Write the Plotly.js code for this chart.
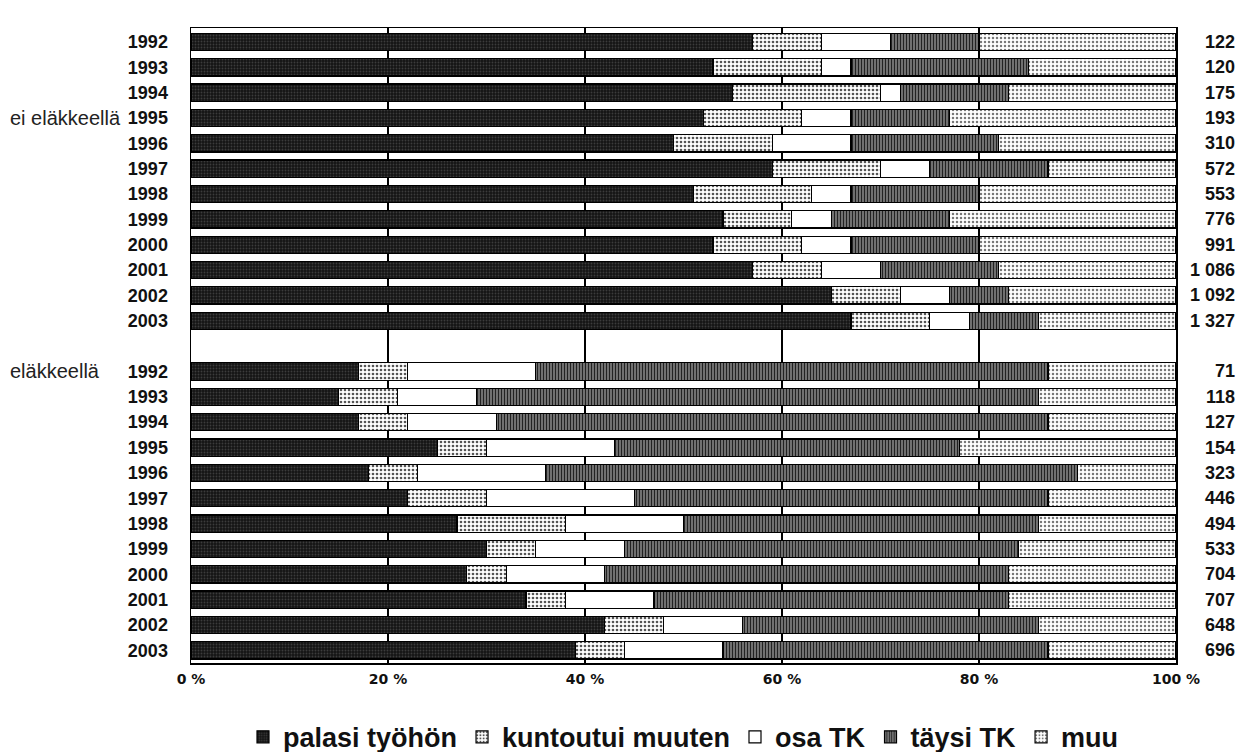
<!DOCTYPE html>
<html>
<head>
<meta charset="utf-8">
<script src="https://cdn.plot.ly/plotly-3.0.1.min.js"></script>
<style>html,body{margin:0;padding:0;background:#fff;}#chart{width:1245px;height:752px;}</style>
</head>
<body>
<div id="chart"></div>
<script>
const years = ['1992','1993','1994','1995','1996','1997','1998','1999','2000','2001','2002','2003'];
const groupLabels = ['ei eläkkeellä', 'eläkkeellä'];
const seriesNames = ['palasi työhön', 'kuntoutui muuten', 'osa TK', 'täysi TK', 'muu'];

// ei eläkkeellä (%)
const palasiEi = [57, 53, 55, 52, 49, 59, 51, 54, 53, 57, 65, 67];
const kuntEi   = [ 7, 11, 15, 10, 10, 11, 12,  7,  9,  7,  7,  8];
const osaEi    = [ 7,  3,  2,  5,  8,  5,  4,  4,  5,  6,  5,  4];
const taysiEi  = [ 9, 18, 11, 10, 15, 12, 13, 12, 13, 12,  6,  7];
const muuEi    = [20, 15, 17, 23, 18, 13, 20, 23, 20, 18, 17, 14];
const nEi      = ['122','120','175','193','310','572','553','776','991','1 086','1 092','1 327'];

// eläkkeellä (%)
const palasiEl = [17, 15, 17, 25, 18, 22, 27, 30, 28, 34, 42, 39];
const kuntEl   = [ 5,  6,  5,  5,  5,  8, 11,  5,  4,  4,  6,  5];
const osaEl    = [13,  8,  9, 13, 13, 15, 12,  9, 10,  9,  8, 10];
const taysiEl  = [52, 57, 56, 35, 54, 42, 36, 40, 41, 36, 30, 33];
const muuEl    = [13, 14, 13, 22, 10, 13, 14, 16, 17, 17, 14, 13];
const nEl      = ['71','118','127','154','323','446','494','533','704','707','648','696'];

const xTickVals = [0, 20, 40, 60, 80, 100];
const xTickText = ['0 %', '20 %', '40 %', '60 %', '80 %', '100 %'];

// row positions: group 1 rows 0..11, blank row 12, group 2 rows 13..24
const yEi = years.map((_, i) => i);
const yEl = years.map((_, i) => i + years.length + 1);
const yAll = yEi.concat(yEl);

const styles = [
  {color: '#1c1c1c', pattern: {shape: '.', fgcolor: '#3c3c3c', bgcolor: '#141414', size: 3, solidity: 0.3}},
  {color: '#ffffff', pattern: {shape: '.', fgcolor: '#555555', bgcolor: '#ffffff', size: 4, solidity: 0.35}},
  {color: '#ffffff', pattern: {shape: '', fgcolor: '#ffffff', bgcolor: '#ffffff'}},
  {color: '#555555', pattern: {shape: '|', fgcolor: '#222222', bgcolor: '#8a8a8a', size: 3, solidity: 0.5}},
  {color: '#ffffff', pattern: {shape: '.', fgcolor: '#777777', bgcolor: '#ffffff', size: 4, solidity: 0.3}}
];
const dataEi = [palasiEi, kuntEi, osaEi, taysiEi, muuEi];
const dataEl = [palasiEl, kuntEl, osaEl, taysiEl, muuEl];

const traces = seriesNames.map((name, k) => ({
  type: 'bar',
  orientation: 'h',
  name: name,
  x: dataEi[k].concat(dataEl[k]),
  y: yAll,
  width: 0.68,
  marker: {
    color: styles[k].color,
    pattern: styles[k].pattern,
    line: {color: '#000000', width: 1.2}
  },
  hoverinfo: 'x+name'
}));

const numFont = {family: 'Liberation Sans, Arial, sans-serif', size: 18, color: '#111', weight: 'bold'};
const grpFont = {family: 'Liberation Sans, Arial, sans-serif', size: 20, color: '#222'};
const annotations = [];
yEi.forEach((y, i) => annotations.push({xref: 'paper', yref: 'y', x: 1.062, y: y, xanchor: 'right', yanchor: 'middle', text: nEi[i], showarrow: false, font: numFont}));
yEl.forEach((y, i) => annotations.push({xref: 'paper', yref: 'y', x: 1.062, y: y, xanchor: 'right', yanchor: 'middle', text: nEl[i], showarrow: false, font: numFont}));
annotations.push({xref: 'paper', yref: 'y', x: -0.186, y: yEi[3], xanchor: 'left', yanchor: 'middle', text: groupLabels[0], showarrow: false, font: grpFont});
annotations.push({xref: 'paper', yref: 'y', x: -0.186, y: yEl[0], xanchor: 'left', yanchor: 'middle', text: groupLabels[1], showarrow: false, font: grpFont});

const layout = {
  width: 1245,
  height: 752,
  margin: {l: 191, r: 69, t: 28, b: 89, autoexpand: false},
  paper_bgcolor: '#ffffff',
  plot_bgcolor: '#ffffff',
  barmode: 'stack',
  showlegend: true,
  legend: {
    orientation: 'h',
    x: 0.5, xanchor: 'center',
    y: -0.117, yanchor: 'middle',
    font: {family: 'Liberation Sans, Arial, sans-serif', size: 27, color: '#111', weight: 'bold'},
    traceorder: 'normal',
    itemwidth: 30
  },
  xaxis: {
    range: [0, 100],
    tickvals: xTickVals,
    ticktext: xTickText,
    showgrid: true,
    gridcolor: '#000000',
    gridwidth: 1.5,
    showline: true,
    linecolor: '#000000',
    linewidth: 1.5,
    mirror: true,
    ticks: '',
    zeroline: false,
    ticklabelstandoff: 3,
    tickfont: {family: 'DejaVu Sans, Verdana, sans-serif', size: 14, color: '#111', weight: 'bold'},
    fixedrange: true
  },
  yaxis: {
    range: [yEl[yEl.length - 1] + 0.5, -0.55],
    tickvals: yAll,
    ticktext: years.concat(years),
    showgrid: false,
    showline: true,
    linecolor: '#000000',
    linewidth: 1.5,
    mirror: true,
    ticks: '',
    zeroline: false,
    ticklabelstandoff: 18,
    tickfont: {family: 'Liberation Sans, Arial, sans-serif', size: 18, color: '#111', weight: 'bold'},
    fixedrange: true
  },
  annotations: annotations
};

Plotly.newPlot('chart', traces, layout, {displayModeBar: false, staticPlot: true});
</script>
</body>
</html>
